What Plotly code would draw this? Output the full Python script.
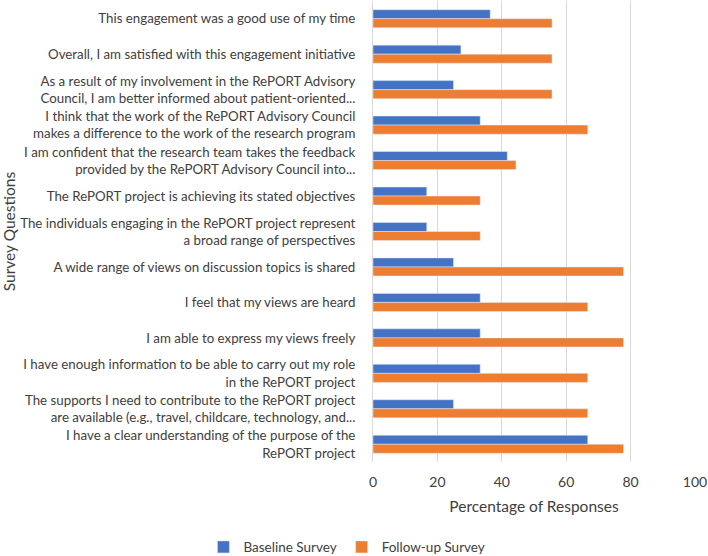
import plotly.graph_objects as go

questions = [
    "This engagement was a good use of my time",
    "Overall, I am satisfied with this engagement initiative",
    "As a result of my involvement in the RePORT Advisory<br>Council, I am better informed about patient-oriented...",
    "I think that the work of the RePORT Advisory Council<br>makes a difference to the work of the research program",
    "I am confident that the research team takes the feedback<br>provided by the RePORT Advisory Council into...",
    "The RePORT project is achieving its stated objectives",
    "The individuals engaging in the RePORT project represent<br>a broad range of perspectives",
    "A wide range of views on discussion topics is shared",
    "I feel that my views are heard",
    "I am able to express my views freely",
    "I have enough information to be able to carry out my role<br>in the RePORT project",
    "The supports I need to contribute to the RePORT project<br>are available (e.g., travel, childcare, technology, and...",
    "I have a clear understanding of the purpose of the<br>RePORT project",
]
baseline = [36.4, 27.3, 25.0, 33.3, 41.7, 16.7, 16.7, 25.0, 33.3, 33.3, 33.3, 25.0, 66.7]
followup = [55.6, 55.6, 55.6, 66.7, 44.4, 33.3, 33.3, 77.8, 66.7, 77.8, 66.7, 66.7, 77.8]
x_ticks = [0, 20, 40, 60, 80, 100]

fig = go.Figure()
fig.add_trace(go.Bar(y=questions, x=baseline, orientation="h", name="Baseline Survey",
                     marker=dict(color="#4472C4")))
fig.add_trace(go.Bar(y=questions, x=followup, orientation="h", name="Follow-up Survey",
                     marker=dict(color="#ED7D31")))

font_family = "Lato, 'Open Sans', sans-serif"
fig.update_layout(
    width=708, height=556,
    barmode="group", bargap=0.49, bargroupgap=0,
    plot_bgcolor="white", paper_bgcolor="white",
    margin=dict(l=373, r=13, t=1, b=94, autoexpand=False),
    font=dict(family=font_family, size=13, color="#404040"),
    legend=dict(orientation="h", xref="container", x=0.49, xanchor="center",
                yref="container", y=0.016, yanchor="middle",
                font=dict(size=13.5, color="#404040"), itemwidth=30),
    xaxis=dict(range=[0, 100], tickvals=x_ticks, showgrid=True, gridcolor="#D9D9D9",
               zeroline=False, showline=False, tickfont=dict(size=14),
               ticklabelstandoff=10, automargin=False, ticklabeloverflow="allow",
               title=dict(text="Percentage of Responses", font=dict(size=15.5), standoff=12)),
    yaxis=dict(autorange="reversed", showgrid=False, showline=True, linecolor="#D9D9D9",
               ticks="", tickfont=dict(size=13.3, color="#404040"), automargin=False,
               ticklabelstandoff=14,
               title=dict(text="Survey Questions", font=dict(size=15.5), standoff=0)),
)

fig.write_html("out.html", config={"displayModeBar": False},
               post_script="document.body.style.margin='0';")
